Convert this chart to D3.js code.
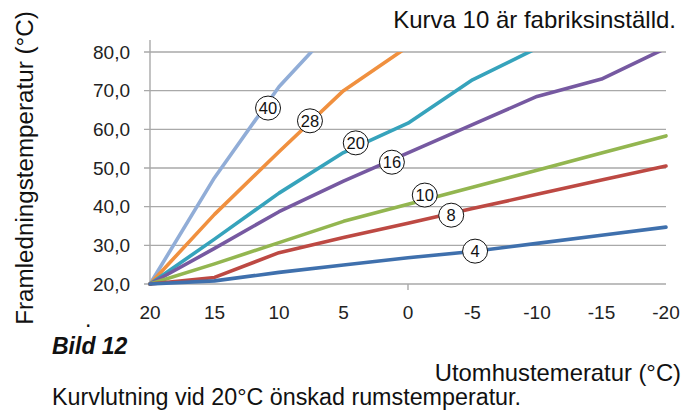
<!DOCTYPE html>
<html>
<head>
<meta charset="utf-8">
<script src="https://cdn.jsdelivr.net/npm/d3@7"></script>
<style>
  html, body { margin: 0; padding: 0; background: #fff; }
  svg { display: block; font-family: "Liberation Sans", Arial, sans-serif; }
</style>
</head>
<body>
<div id="chart"></div>
<script>
// outdoor temperature categories (x axis), left to right
const outdoorTemps = [20, 15, 10, 5, 0, -5, -10, -15, -20];
const yTicks = [20, 30, 40, 50, 60, 70, 80];

// supply temperature per curve (values above 80 get clipped)
const curve40 = [20, 47.5, 71, 89];
const curve28 = [20, 38, 54.2, 70, 81.4];
const curve20 = [20, 31.6, 43.5, 54, 61.6, 72.8, 81];
const curve16 = [20, 29.2, 38.7, 46.6, 53.9, 61.2, 68.5, 73, 81];
const curve10 = [20, 25.2, 30.7, 36.2, 40.6, 45, 49.4, 53.9, 58.3];
const curve8 = [20, 21.7, 28.1, 32, 35.7, 39.5, 43.2, 46.9, 50.5];
const curve4 = [20, 20.8, 23, 24.9, 26.8, 28.4, 30.5, 32.6, 34.7];

const curveNames = ['40', '28', '20', '16', '10', '8', '4'];
const curveValues = [curve40, curve28, curve20, curve16, curve10, curve8, curve4];
const curveColors = ['#91add7', '#f0903f', '#36a3bc', '#7659a1', '#93b650', '#bd4943', '#3f70ad'];

// where the circled numbers sit (outdoor temp, supply temp)
const labelTemp = [10.85, 7.6, 4.05, 1.25, -1.3, -3.35, -5.2];
const labelValue = [65.5, 62.2, 56.5, 51.5, 43.0, 37.8, 28.5];

const W = 686, H = 412;
const svg = d3.select('#chart').append('svg')
  .attr('width', W)
  .attr('height', H);

const x = d3.scaleLinear().domain([20, -20]).range([150, 666]);
const y = d3.scaleLinear().domain([20, 80]).range([284, 52]);

const gridColor = '#a9a9a9';

// horizontal grid lines
svg.append('g')
  .selectAll('line')
  .data(yTicks)
  .enter()
  .append('line')
  .attr('x1', x(20) - 6)
  .attr('x2', x(-20))
  .attr('y1', d => y(d))
  .attr('y2', d => y(d))
  .attr('stroke', gridColor)
  .attr('stroke-width', 1.4);

// vertical axis line
svg.append('line')
  .attr('x1', x(20)).attr('x2', x(20))
  .attr('y1', y(80) - 12).attr('y2', y(20))
  .attr('stroke', gridColor)
  .attr('stroke-width', 1.4);

// small tick at 0
svg.append('line')
  .attr('x1', x(0)).attr('x2', x(0))
  .attr('y1', y(20)).attr('y2', y(20) + 6)
  .attr('stroke', gridColor)
  .attr('stroke-width', 1.4);

// y tick labels
svg.append('g')
  .selectAll('text')
  .data(yTicks)
  .enter()
  .append('text')
  .attr('x', 130)
  .attr('y', d => y(d))
  .attr('dy', '0.35em')
  .attr('text-anchor', 'end')
  .attr('font-size', '19px')
  .attr('fill', '#222')
  .text(d => d3.format('.1f')(d).replace('.', ','));

// x tick labels
svg.append('g')
  .selectAll('text')
  .data(outdoorTemps)
  .enter()
  .append('text')
  .attr('x', d => x(d))
  .attr('y', 312)
  .attr('dy', '0.35em')
  .attr('text-anchor', 'middle')
  .attr('font-size', '19px')
  .attr('fill', '#222')
  .text(d => d);

// curves, clipped at 80
svg.append('clipPath')
  .attr('id', 'plot-clip')
  .append('rect')
  .attr('x', x(20) - 5)
  .attr('y', y(80))
  .attr('width', x(-20) - x(20) + 10)
  .attr('height', y(20) - y(80) + 6);

const line = d3.line()
  .x((d, i) => x(outdoorTemps[i]))
  .y(d => y(d));

const plot = svg.append('g').attr('clip-path', 'url(#plot-clip)');
curveValues.forEach((vals, i) => {
  plot.append('path')
    .datum(vals)
    .attr('d', line)
    .attr('fill', 'none')
    .attr('stroke', curveColors[i])
    .attr('stroke-width', 3.6)
    .attr('stroke-linejoin', 'round')
    .attr('stroke-linecap', 'round');
});

// circled curve numbers
const labels = svg.append('g')
  .selectAll('g')
  .data(curveNames)
  .enter()
  .append('g')
  .attr('transform', (d, i) => `translate(${x(labelTemp[i])},${y(labelValue[i])})`);

labels.append('ellipse')
  .attr('rx', 12.5)
  .attr('ry', 12)
  .attr('fill', '#fff')
  .attr('stroke', '#111')
  .attr('stroke-width', 1);

labels.append('text')
  .attr('text-anchor', 'middle')
  .attr('dy', '0.36em')
  .attr('font-size', '16.5px')
  .attr('fill', '#111')
  .text(d => d);

// texts around the chart
svg.append('text')
  .attr('x', 676)
  .attr('y', 28)
  .attr('text-anchor', 'end')
  .attr('font-size', '24px')
  .attr('fill', '#111')
  .text('Kurva 10 är fabriksinställd.');

svg.append('text')
  .attr('transform', 'translate(33,168) rotate(-90)')
  .attr('text-anchor', 'middle')
  .attr('font-size', '24.2px')
  .attr('fill', '#111')
  .text('Framledningstemperatur (°C)');

svg.append('text')
  .attr('x', 85)
  .attr('y', 327)
  .attr('font-size', '23px')
  .attr('fill', '#111')
  .text('.');

svg.append('text')
  .attr('x', 52)
  .attr('y', 354)
  .attr('font-size', '23px')
  .attr('font-weight', 'bold')
  .attr('font-style', 'italic')
  .attr('fill', '#111')
  .text('Bild 12');

svg.append('text')
  .attr('x', 681)
  .attr('y', 381)
  .attr('text-anchor', 'end')
  .attr('font-size', '23.8px')
  .attr('fill', '#111')
  .text('Utomhustemeratur (°C)');

svg.append('text')
  .attr('x', 52)
  .attr('y', 405)
  .attr('font-size', '23.3px')
  .attr('fill', '#111')
  .text('Kurvlutning vid 20°C önskad rumstemperatur.');
</script>
</body>
</html>
